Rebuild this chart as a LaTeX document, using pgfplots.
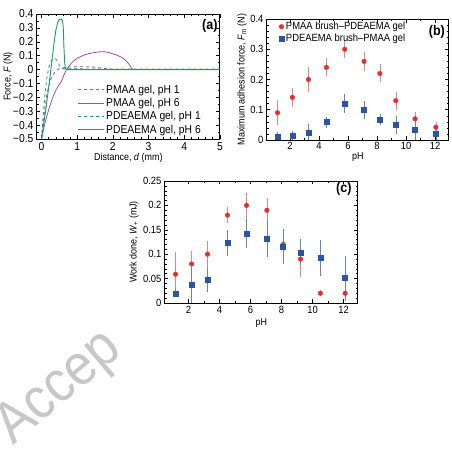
\documentclass[border=0pt]{standalone}
\usepackage{fontspec}
\setmainfont{Liberation Sans}[FakeStretch=0.9]
\usepackage{pgfplots}
\pgfplotsset{compat=1.18}
\usepackage{pgfplotstable}

\definecolor{pmaa}{RGB}{165,75,165}
\definecolor{pdea}{RGB}{20,160,100}
\definecolor{redpt}{RGB}{232,45,45}
\definecolor{redbar}{RGB}{235,130,130}
\definecolor{bluept}{RGB}{40,85,165}
\definecolor{bluebar}{RGB}{110,130,175}

% Maximum adhesion force (N) versus pH
\pgfplotstableread{
x     y      e
1.13  0.090  0.031
2.16  0.141  0.021
3.27  0.200  0.031
4.51  0.240  0.020
5.77  0.300  0.020
7.10  0.260  0.021
8.19  0.220  0.020
9.29  0.130  0.020
10.62 0.070  0.011
12.05 0.042  0.007
}\fmred
\pgfplotstableread{
x     y      e
1.13  0.011  0.004
2.16  0.013  0.007
3.27  0.024  0.020
4.51  0.059  0.008
5.77  0.121  0.022
7.10  0.099  0.019
8.19  0.067  0.008
9.29  0.050  0.020
10.62 0.035  0.033
12.05 0.022  0.013
}\fmblue

% Work done (mJ) versus pH
\pgfplotstableread{
x     y      e
1.16  0.059  0.040
2.19  0.080  0.020
3.22  0.100  0.020
4.51  0.180  0.010
5.74  0.200  0.020
7.05  0.190  0.020
8.10  0.120  0.020
9.22  0.090  0.030
10.50 0.020  0.000
12.10 0.020  0.006
}\wred
\pgfplotstableread{
x     y      e
1.16  0.020  0.002
2.19  0.037  0.030
3.22  0.048  0.020
4.51  0.123  0.020
5.74  0.143  0.024
7.05  0.131  0.030
8.10  0.116  0.030
9.22  0.104  0.020
10.50 0.092  0.030
12.10 0.051  0.040
}\wblue

\pgfplotsset{
  panel/.style={
    scale only axis,
    axis line style={line width=0.9pt},
    tick align=inside,
    tick style={black, line width=0.5pt},
    major tick length=3.5bp,
    minor tick length=2bp,
    /pgf/number format/assume math mode=true,
    /pgf/number format/fixed,
    /pgf/number format/precision=2,
  },
  redset/.style={only marks, mark=*, mark size=2.3bp, color=redpt,
    mark options={draw=redpt, fill=redpt},
    error bars/.cd, y dir=both, y explicit,
    error bar style={redbar, line width=0.6pt},
    error mark options={redbar, mark size=3bp, line width=0.6pt}},
  blueset/.style={only marks, mark=square*, mark size=2.5bp, color=bluept,
    mark options={draw=bluept, fill=bluept},
    error bars/.cd, y dir=both, y explicit,
    error bar style={bluebar, line width=0.6pt},
    error mark options={bluebar, mark size=3bp, line width=0.6pt}},
}

\begin{document}
\begin{tikzpicture}
% page frame, 451 x 452
\path (0bp,0bp) rectangle (451bp,452bp);

% background watermark
\begin{scope}
\clip (0bp,0bp) rectangle (150bp,123bp);
\node[rotate=40, text=black!22, font=\fontsize{58}{58}\selectfont, anchor=base west, inner sep=0pt] at (12bp,6bp) {Accep};
\end{scope}

% (a) force-distance curves
\begin{axis}[panel,
  at={(36bp,313bp)}, anchor=south west, width=183bp, height=125bp,
  xmin=-0.13, xmax=5, ymin=-0.5, ymax=0.4,
  xtick={0,1,2,3,4,5}, minor x tick num=4,
  ytick={-0.5,-0.4,-0.3,-0.2,-0.1,0,0.1,0.2,0.3,0.4},
  yticklabels={−0.5,−0.4,−0.3,−0.2,−0.1,0,0.1,0.2,0.3,0.4},
  minor y tick num=1,
  tick label style={font=\fontsize{11.5}{12}\selectfont},
  label style={font=\fontsize{11.5}{12}\selectfont},
  xlabel={Distance, \textit{d} (mm)},
  ylabel={Force, \textit{F} (N)},
  every axis x label/.style={at={(axis description cs:0.5,-0.155)}, anchor=center},
  every axis y label/.style={at={(axis description cs:-0.158,0.5)}, anchor=center, rotate=90},
  legend style={at={(0.22,0.45)}, anchor=north west, draw=none, fill=none,
    font=\fontsize{11.5}{12}\selectfont, row sep=-0.5bp, inner sep=0pt},
  legend cell align=left,
  legend image code/.code={\draw[#1] (0bp,0bp) -- (26bp,0bp);},
]
\addplot[pmaa, dashed, line width=0.8pt] coordinates {
(0,-0.5) (0.05,-0.38) (0.1,-0.27) (0.15,-0.18) (0.2,-0.12) (0.26,-0.07)
(0.33,-0.035) (0.4,-0.01) (0.5,0.008) (0.7,0.017) (1.0,0.02) (1.3,0.02)
(1.5,0.017) (1.7,0.01) (1.9,0.003) (2.1,0) (5,0)};
\addlegendentry{PMAA gel, pH 1}
\addplot[pmaa, line width=0.8pt] coordinates {
(0,-0.5) (0.05,-0.44) (0.1,-0.38) (0.2,-0.29) (0.3,-0.21) (0.4,-0.15)
(0.5,-0.105) (0.56,-0.085) (0.62,-0.045) (0.7,0) (0.8,0.035) (0.9,0.062)
(1.0,0.082) (1.2,0.105) (1.4,0.119) (1.6,0.127) (1.75,0.129) (1.9,0.122)
(2.1,0.105) (2.25,0.088) (2.35,0.068) (2.45,0.04) (2.52,0.012) (2.57,0) (5,0)};
\addlegendentry{PMAA gel, pH 6}
\addplot[pdea, dashed, line width=0.8pt] coordinates {
(0,-0.5) (0.05,-0.32) (0.1,-0.17) (0.15,-0.06) (0.2,0.01) (0.25,0.05)
(0.3,0.07) (0.35,0.078) (0.4,0.075) (0.45,0.058) (0.5,0.03) (0.55,0.012)
(0.6,0.005) (5,0.003)};
\addlegendentry{PDEAEMA gel, pH 1}
\addplot[pdea, line width=0.9pt] coordinates {
(0,-0.5) (0.05,-0.41) (0.12,-0.29) (0.24,-0.05) (0.3,0.08) (0.35,0.19)
(0.4,0.28) (0.44,0.325) (0.47,0.35) (0.5,0.36) (0.56,0.36) (0.59,0.35)
(0.61,0.3) (0.63,0.15) (0.65,0.05) (0.67,0.006) (0.7,0) (5,0)};
\addlegendentry{PDEAEMA gel, pH 6}
\end{axis}
\node[font=\fontsize{14}{14}\selectfont\bfseries] at (209bp,426bp) {(a)};

% (b) maximum adhesion force
\begin{axis}[panel,
  at={(266bp,312bp)}, anchor=south west, width=182bp, height=121bp,
  xmin=0.4, xmax=12.95, ymin=0, ymax=0.4,
  xtick={2,4,6,8,10,12}, minor x tick num=1,
  ytick={0,0.1,0.2,0.3,0.4}, minor y tick num=4,
  tick label style={font=\fontsize{10.5}{11}\selectfont},
  label style={font=\fontsize{10.5}{11}\selectfont},
  xticklabel style={yshift=1.5bp},
  xlabel={pH},
  ylabel={Maximum adhesion force, \textit{F}\textsubscript{m} (N)},
  every axis x label/.style={at={(axis description cs:0.5,-0.14)}, anchor=center},
  every axis y label/.style={at={(axis description cs:-0.137,0.5)}, anchor=center, rotate=90},
  legend style={at={(0.06,1)}, anchor=north west, draw=none, fill=none,
    font=\fontsize{10.5}{10.5}\selectfont, row sep=-1bp, inner sep=1bp},
  legend cell align=left,
  legend image code/.code={\draw[#1] plot coordinates {(0bp,0bp)};},
]
\addplot[redset] table[x=x, y=y, y error=e] {\fmred};
\addlegendentry{PMAA brush–PDEAEMA gel}
\addplot[blueset] table[x=x, y=y, y error=e] {\fmblue};
\addlegendentry{PDEAEMA brush–PMAA gel}
\end{axis}
\node[font=\fontsize{14}{14}\selectfont\bfseries] at (436bp,420bp) {(b)};

% (c) work done
\begin{axis}[panel,
  at={(164bp,149bp)}, anchor=south west, width=193bp, height=122bp,
  xmin=0.47, xmax=12.92, ymin=0, ymax=0.25,
  xtick={2,4,6,8,10,12}, minor x tick num=1,
  ytick={0,0.05,0.1,0.15,0.2,0.25}, minor y tick num=4,
  tick label style={font=\fontsize{10.5}{11}\selectfont},
  label style={font=\fontsize{10.5}{11}\selectfont},
  xlabel={pH},
  ylabel={Work done, \textit{W}\textsubscript{+} (mJ)},
  every axis x label/.style={at={(axis description cs:0.5,-0.165)}, anchor=center},
  every axis y label/.style={at={(axis description cs:-0.16,0.5)}, anchor=center, rotate=90},
]
\addplot[redset] table[x=x, y=y, y error=e] {\wred};
\addplot[blueset] table[x=x, y=y, y error=e] {\wblue};
\end{axis}
\node[font=\fontsize{14}{14}\selectfont\bfseries] at (343bp,263bp) {(c)};
\end{tikzpicture}
\end{document}
